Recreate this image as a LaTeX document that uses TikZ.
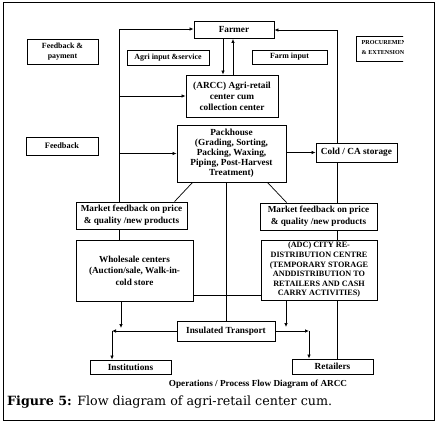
\documentclass[tikz,border=0pt]{standalone}
\usepackage{fontspec}
\setmainfont{Liberation Serif}
\newfontfamily\figfont{DejaVu Serif}
\usetikzlibrary{arrows.meta}
\tikzset{
  box/.style={draw, line width=0.9pt, inner sep=0pt, align=center, font=\bfseries\fontsize{9.3}{11}\selectfont},
  smallbox/.style={box, font=\bfseries\fontsize{7.9}{9.5}\selectfont},
  conn/.style={line width=0.7pt},
  arr/.style={conn, -{Latex[length=4pt,width=3.5pt]}}
}
\begin{document}
\begin{tikzpicture}[x=1pt,y=-1pt]
\useasboundingbox (0,0) rectangle (439,425);
\draw[line width=1pt] (3,3) rectangle (434,420);
% boxes
\node[box, minimum width=80pt, minimum height=17pt] (farmer) at (234,30) {Farmer};
\node[smallbox, minimum width=71pt, minimum height=25pt] (fbpay) at (62.5,51.5) {Feedback \&\\payment};
\node[smallbox, minimum width=82pt, minimum height=14.5pt] (agri) at (168,57.75) {Agri input \&service};
\node[smallbox, minimum width=75pt, minimum height=14pt] (farminput) at (289.5,57) {Farm input};
\begin{scope}
\clip (340,20) rectangle (403,80);
\draw[line width=0.9pt] (356,36) rectangle (420,61);
\node[anchor=west, align=left, inner sep=0pt, font=\bfseries\fontsize{6.1}{10}\selectfont] (procure) at (361.5,48) {PROCUREMENT\\\& EXTENSION};
\end{scope}
\node[box, minimum width=92pt, minimum height=42pt] (arcc) at (232,96) {(ARCC) Agri-retail\\center cum\\collection center};
\node[smallbox, minimum width=72pt, minimum height=18pt, font=\bfseries\fontsize{8.3}{10}\selectfont] (feedback) at (62,146) {Feedback};
\node[box, minimum width=109pt, minimum height=57pt, font=\bfseries\fontsize{9.3}{10}\selectfont] (pack) at (231.5,153.5) {Packhouse\\(Grading, Sorting,\\Packing, Waxing,\\Piping, Post-Harvest\\Treatment)};
\node[box, minimum width=81pt, minimum height=19pt] (cold) at (356.5,152.5) {Cold / CA storage};
\node[box, minimum width=111pt, minimum height=27pt, font=\bfseries\fontsize{9.2}{12}\selectfont] (mfl) at (131.5,215.5) {Market feedback on price\\\& quality /new products};
\node[box, minimum width=117pt, minimum height=27pt, font=\bfseries\fontsize{9.2}{12}\selectfont] (mfr) at (318.5,216.5) {Market feedback on price\\\& quality /new products};
\node[box, minimum width=117pt, minimum height=61pt, font=\bfseries\fontsize{9.2}{11.5}\selectfont] (whole) at (134.5,270.5) {Wholesale centers\\(Auction/sale, Walk-in-\\cold store};
\node[box, minimum width=116pt, minimum height=60pt, font=\bfseries\fontsize{8.2}{9.6}\selectfont] (adc) at (319,270) {(ADC) CITY RE-\\DISTRIBUTION CENTRE\\(TEMPORARY STORAGE\\ANDDISTRIBUTION TO\\RETAILERS AND CASH\\CARRY ACTIVITIES)};
\node[box, minimum width=98pt, minimum height=20pt] (ins) at (226,331) {Insulated Transport};
\node[box, minimum width=81pt, minimum height=14pt] (inst) at (130.5,367) {Institutions};
\node[box, minimum width=81pt, minimum height=15pt] (ret) at (332.5,366.5) {Retailers};
% captions
\node[font=\bfseries\fontsize{9.2}{10}\selectfont, inner sep=0pt] (ops) at (258,384) {Operations / Process Flow Diagram of ARCC};
\node[anchor=base west, inner sep=0pt, font=\figfont\fontsize{12.7}{14}\selectfont] (fig) at (7,405) {\textbf{Figure 5:} Flow diagram of agri-retail center cum.};
% left feedback line
\coordinate (ltop) at (119,29);
\draw[conn] (ltop |- mfl.north) -- (ltop);
\draw[arr] (ltop) -- (ltop -| farmer.west);
\draw[arr] (ltop |- arcc.west) -- (arcc.west);
\draw[arr] (ltop |- pack.west) -- (pack.west);
\draw[conn] (ltop |- mfl.south) -- (ltop |- whole.north);
% farmer <-> arcc
\draw[arr] ([xshift=-11pt]farmer.south) -- ([xshift=-11pt]farmer.south |- arcc.north);
\draw[arr] ([xshift=-1pt]farmer.south |- arcc.north) -- ([xshift=-1pt]farmer.south);
% right line
\coordinate (rtop) at (337,30);
\draw[arr] (rtop |- cold.north) -- (rtop) -- (farmer.east);
\draw[conn] (rtop |- cold.south) -- (rtop |- mfr.north);
\draw[conn] (rtop |- mfr.south) -- (rtop |- adc.north);
\draw[conn] (rtop |- adc.south) -- (rtop |- ret.north);
% packhouse
\draw[arr] (pack.east |- cold.west) -- (cold.west);
\draw[conn] ([xshift=16pt]pack.south west) -- ([xshift=99pt]mfl.north west);
\draw[conn] ([xshift=-19pt]pack.south east) -- ([xshift=27pt]mfr.north west);
\draw[conn] (pack.south -| ins.north) -- (ins.north);
% wholesale - adc
\draw[conn] ([yshift=6pt]whole.south east) -- ([yshift=6pt]whole.south east -| adc.west);
% bottom left
\coordinate (wdrop) at (121,328);
\coordinate (bl) at (112,331);
\draw[arr] (wdrop |- whole.south) -- (wdrop);
\draw[arr] (ins.west) -- (ins.west -| bl);
\draw[arr] (ins.west -| bl) -- (bl |- inst.north);
% bottom right
\coordinate (adrop) at (286,327);
\coordinate (br) at (309,331);
\draw[arr] (adrop |- adc.south) -- (adrop);
\draw[arr] (ins.east) -- (ins.east -| br);
\draw[arr] (ins.east -| br) -- (br |- ret.north);
\end{tikzpicture}
\end{document}
